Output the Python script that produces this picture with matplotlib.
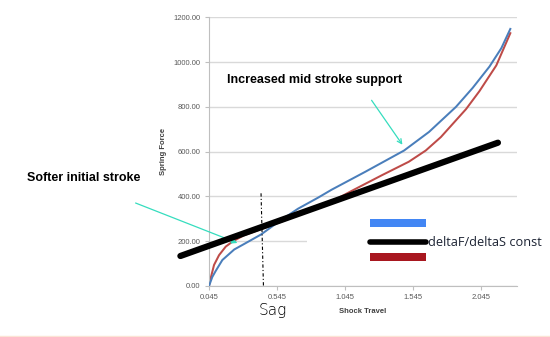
import numpy as np
import matplotlib.pyplot as plt
from matplotlib.patches import Rectangle
from matplotlib.lines import Line2D

# spring curves
blue_x = [0.045, 0.069, 0.094, 0.143, 0.230, 0.304, 0.427, 0.551, 0.698, 0.847, 0.945,
          1.192, 1.477, 1.660, 1.858, 1.981, 2.104, 2.191, 2.257]
blue_y = [0, 40, 67, 116, 163, 188, 230, 285, 345, 395, 430,
          510, 605, 688, 800, 885, 980, 1062, 1148]

red_x = [0.045, 0.057, 0.082, 0.119, 0.168, 0.217, 0.300, 0.500, 0.700, 0.900, 1.093,
         1.315, 1.512, 1.636, 1.747, 1.932, 2.030, 2.154, 2.257]
red_y = [0, 34, 94, 138, 176, 198, 226, 270, 316, 362, 425,
         495, 555, 605, 665, 790, 870, 985, 1129]

# hand drawn constant rate line and sag marker
const_x = [-0.165, 2.166]
const_y = [134, 640]
sag_x = [0.427, 0.445]
sag_y = [414, -7]

x_ticks = [0.045, 0.545, 1.045, 1.545, 2.045]
y_ticks = [0, 200, 400, 600, 800, 1000, 1200]

W, H = 550, 337

def px(x, y):
  return (x / W, 1 - y / H)

fig = plt.figure(figsize=(5.5, 3.37), dpi=100)
ax = fig.add_axes([209 / W, 1 - 286 / H, (517 - 209) / W, (286 - 17.3) / H])

ax.plot(blue_x, blue_y, color='#4A7EBB', lw=1.45, zorder=3)
ax.plot(red_x, red_y, color='#BE4B48', lw=1.45, zorder=2)
ax.plot(const_x, const_y, color='black', lw=4.5, solid_capstyle='round', clip_on=False, zorder=4)
ax.plot(sag_x, sag_y, color='black', lw=0.8, ls=(0, (3, 2, 1, 2)), clip_on=False, zorder=5)

ax.set_xlim(0.045, 2.306)
ax.set_ylim(0, 1200)
ax.set_xticks(x_ticks)
ax.set_xticklabels(['{:.3f}'.format(v) for v in x_ticks])
ax.set_yticks(y_ticks)
ax.set_yticklabels(['{:.2f}'.format(v) for v in y_ticks])
ax.grid(axis='y', color='#D9D9D9', lw=1.0)
ax.set_axisbelow(True)
for s in ['top', 'right']:
  ax.spines[s].set_visible(False)
for s in ['left', 'bottom']:
  ax.spines[s].set_color('#BFBFBF')
ax.tick_params(axis='both', colors='#BFBFBF', labelcolor='#595959', labelsize=5.5, length=3, width=0.8)
ax.tick_params(axis='x', pad=2.5)
ax.tick_params(axis='y', pad=3)
for lab in ax.get_xticklabels() + ax.get_yticklabels():
  lab.set_fontfamily('Liberation Sans')

ax.set_xlabel('Shock Travel', fontsize=5.5, fontweight='bold', family='Liberation Sans', color='#404040', labelpad=5)
ax.set_ylabel('Spring Force', fontsize=5.5, fontweight='bold', family='Liberation Sans', color='#404040', labelpad=5)

# white box that hides part of the gridline (under the curves), legend bars on top
ax.add_patch(Rectangle(px(307, 272), (530 - 307) / W, 56 / H, transform=fig.transFigure,
                       facecolor='white', edgecolor='none', zorder=1, clip_on=False))
fig.add_artist(Rectangle(px(370, 227), 56 / W, 8 / H, transform=fig.transFigure,
                         facecolor='#4286F4', edgecolor='none', zorder=6))
fig.add_artist(Rectangle(px(370, 261), 56 / W, 8 / H, transform=fig.transFigure,
                         facecolor='#A8171F', edgecolor='none', zorder=6))
fig.add_artist(Line2D([370 / W, 426 / W], [1 - 242 / H] * 2, transform=fig.transFigure,
                      color='black', lw=4, solid_capstyle='round', zorder=6))
fig.text(*px(428, 242), 'deltaF/deltaS const', ha='left', va='center', fontsize=9.2,
         family='Open Sans', color='#1c2333', zorder=7)

fig.text(*px(227, 80), 'Increased mid stroke support', ha='left', va='center',
         fontsize=9, fontweight='bold', family='Liberation Sans', zorder=7)
fig.text(*px(27, 178), 'Softer initial stroke', ha='left', va='center',
         fontsize=9, fontweight='bold', family='Liberation Sans', zorder=7)
fig.text(*px(273, 311), 'Sag', ha='center', va='center', fontsize=11,
         family='DejaVu Sans', fontweight='light', zorder=7)

arrow = dict(arrowstyle='->', color='#35DDBE', lw=0.9, mutation_scale=8)
ax.annotate('', xy=px(404, 147), xycoords='figure fraction',
            xytext=px(370, 98), textcoords='figure fraction', arrowprops=arrow)
ax.annotate('', xy=px(240, 244), xycoords='figure fraction',
            xytext=px(133, 202), textcoords='figure fraction',
            arrowprops=dict(arrow, arrowstyle='-|>', facecolor='none'))

fig.add_artist(Line2D([0, 1], [1.5 / H] * 2, transform=fig.transFigure, color='#FBE4D5', lw=1))

plt.savefig('out.png', dpi=100)
